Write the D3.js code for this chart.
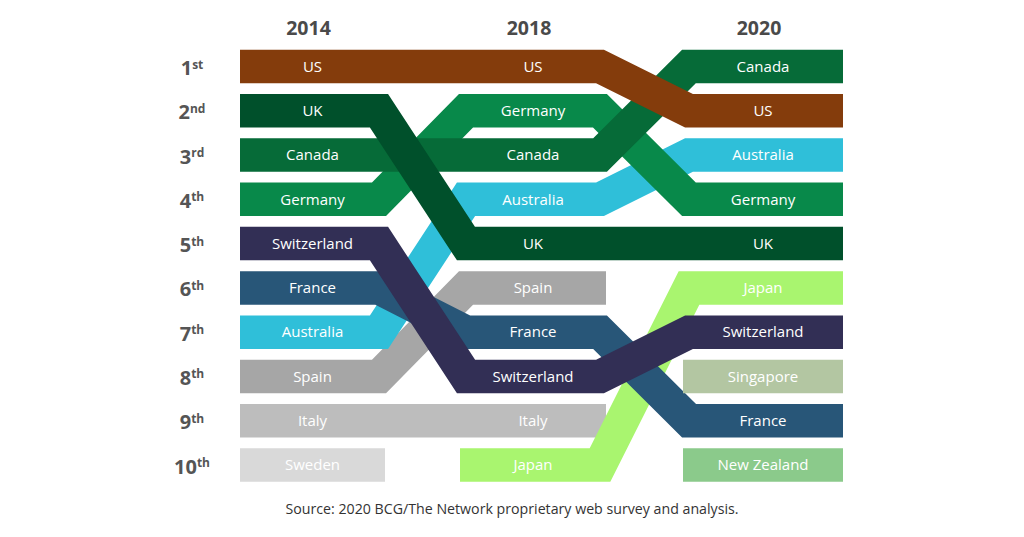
<!DOCTYPE html>
<html>
<head>
<meta charset="utf-8">
<script src="https://cdn.jsdelivr.net/npm/d3@7"></script>
<style>
  html, body { margin: 0; padding: 0; background: #fff; }
  svg { display: block; }
</style>
</head>
<body>
<svg id="chart" width="1024" height="537"></svg>
<script>
// ---------- DATA ----------
const years = ["2014", "2018", "2020"];
const rankNumbers = ["1", "2", "3", "4", "5", "6", "7", "8", "9", "10"];
const rankSuffixes = ["st", "nd", "rd", "th", "th", "th", "th", "th", "th", "th"];

const ranking2014 = ["US", "UK", "Canada", "Germany", "Switzerland", "France", "Australia", "Spain", "Italy", "Sweden"];
const ranking2018 = ["US", "Germany", "Canada", "Australia", "UK", "Spain", "France", "Switzerland", "Italy", "Japan"];
const ranking2020 = ["Canada", "US", "Australia", "Germany", "UK", "Japan", "Switzerland", "Singapore", "France", "New Zealand"];

// drawing order (bottom to top) and colours
const countries = ["Sweden", "Italy", "Spain", "Japan", "Australia", "France", "Germany", "Canada", "UK", "Switzerland", "US", "Singapore", "New Zealand"];
const countryColors = ["#d9d9d9", "#bdbdbd", "#a6a6a6", "#a9f56f", "#2fbfd9", "#285678", "#08894a", "#066b38", "#00502b", "#322f55", "#843c0c", "#b3c6a2", "#8bca8b"];

const sourceText = "Source: 2020 BCG/The Network proprietary web survey and analysis.";

// ---------- LAYOUT ----------
const rankings = [ranking2014, ranking2018, ranking2020];
const svg = d3.select("#chart");
const bandH = 33.5;
const k = 6;

const y = d3.scaleLinear().domain([1, 10]).range([66.5, 465]);
const xStart = d3.scaleOrdinal().domain(years).range([240, 460, 683]);
const xEnd = d3.scaleOrdinal().domain(years).range([385, 606, 843]);
const color = d3.scaleOrdinal().domain(countries).range(countryColors);

// year headers
svg.append("g").selectAll("text").data(years).join("text")
  .attr("x", d => (xStart(d) + xEnd(d)) / 2 - 4)
  .attr("y", 28)
  .attr("dy", "0.35em")
  .attr("text-anchor", "middle")
  .attr("font-family", "Open Sans, sans-serif")
  .attr("font-weight", 700)
  .attr("font-size", 19.5)
  .attr("fill", "#4a4a4a")
  .text(d => d);

// rank labels
const rl = svg.append("g").selectAll("text").data(rankNumbers).join("text")
  .attr("x", 192)
  .attr("y", (d, i) => y(i + 1) + 8.5)
  .attr("text-anchor", "middle")
  .attr("font-family", "Open Sans, sans-serif")
  .attr("font-weight", 700)
  .attr("fill", "#555");
rl.append("tspan").attr("font-size", 20).text(d => d);
rl.append("tspan").attr("font-size", 12).attr("dy", -6.5).text((d, i) => rankSuffixes[i]);

// band paths
function pathPoints(country) {
  const pres = [];
  years.forEach((yr, i) => {
    const r = rankings[i].indexOf(country);
    if (r >= 0) pres.push({ yr, rank: r + 1 });
  });
  const pts = [];
  pres.forEach((p, j) => {
    if (j === 0) pts.push([xStart(p.yr), y(p.rank)]);
    if (j < pres.length - 1) {
      const n = pres[j + 1];
      pts.push([xEnd(p.yr) - k, y(p.rank)]);
      pts.push([xStart(n.yr) + k, y(n.rank)]);
    } else {
      pts.push([xEnd(p.yr), y(p.rank)]);
    }
  });
  return pts;
}

const line = d3.line();
svg.append("g").selectAll("path").data(countries).join("path")
  .attr("d", d => line(pathPoints(d)))
  .attr("fill", "none")
  .attr("stroke", d => color(d))
  .attr("stroke-width", bandH)
  .attr("stroke-linejoin", "miter")
  .attr("stroke-miterlimit", 10)
  .attr("stroke-linecap", "butt");

// labels in each column
const labelData = [];
years.forEach((yr, i) => rankings[i].forEach((c, r) => labelData.push({ yr, c, rank: r + 1 })));
svg.append("g").selectAll("text").data(labelData).join("text")
  .attr("x", d => (xStart(d.yr) + xEnd(d.yr)) / 2)
  .attr("y", d => y(d.rank))
  .attr("dy", "0.35em")
  .attr("text-anchor", "middle")
  .attr("font-family", "Open Sans, sans-serif")
  .attr("font-size", 15)
  .attr("fill", "#ffffff")
  .text(d => d.c);

// source
svg.append("text")
  .attr("x", 512)
  .attr("y", 509)
  .attr("dy", "0.35em")
  .attr("text-anchor", "middle")
  .attr("font-family", "Open Sans, sans-serif")
  .attr("font-size", 14.2)
  .attr("fill", "#333")
  .text(sourceText);
</script>
</body>
</html>
